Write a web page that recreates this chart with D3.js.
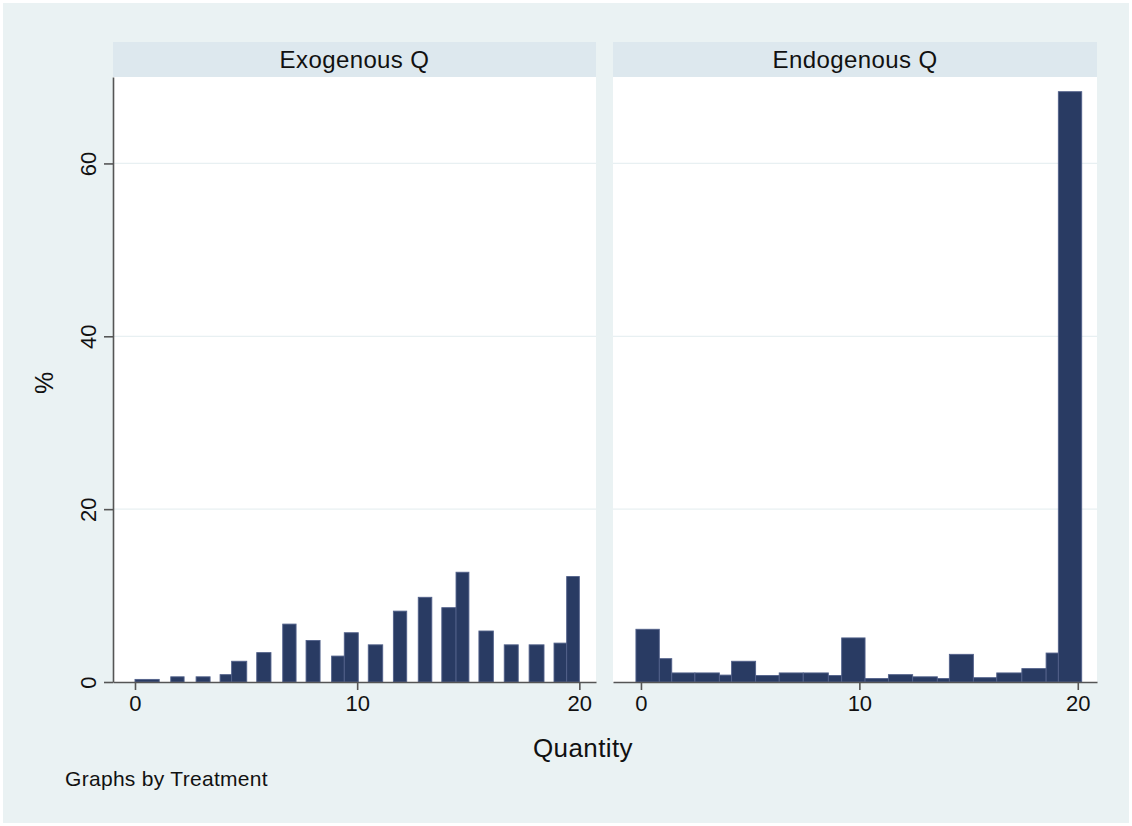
<!DOCTYPE html>
<html lang="en">
<head>
  <meta charset="UTF-8">
  <title>Quantity by Treatment</title>
  <script src="https://cdn.jsdelivr.net/npm/d3@7"></script>
  <style>
    body { margin: 0; background: #fff; }
    text { font-family: "Liberation Sans", Arial, Helvetica, sans-serif; fill: #111; }
  </style>
</head>
<body>
<div id="chart"></div>
<script>
  // bins: lower edge, upper edge (Quantity), percent
  const exoLo  = [0, 1.61, 2.75, 3.83, 4.35, 5.48, 6.65, 7.70, 8.85, 9.42, 10.50, 11.63, 12.75, 13.81, 14.45, 15.48, 16.62, 17.74, 18.86, 19.43];
  const exoHi  = [1.09, 2.21, 3.38, 4.35, 5.03, 6.12, 7.25, 8.33, 9.42, 10.05, 11.15, 12.23, 13.36, 14.45, 15.03, 16.13, 17.25, 18.41, 19.43, 20.0];
  const exoPct = [0.3, 0.6, 0.6, 0.85, 2.4, 3.4, 6.7, 4.8, 3.0, 5.7, 4.3, 8.2, 9.8, 8.6, 12.7, 5.9, 4.3, 4.3, 4.5, 12.2];

  const endoLo  = [-0.23, 0.84, 1.41, 2.47, 3.59, 4.15, 5.25, 6.33, 7.43, 8.58, 9.19, 10.26, 11.33, 12.44, 13.57, 14.12, 15.22, 16.29, 17.44, 18.55, 19.11];
  const endoHi  = [0.84, 1.41, 2.47, 3.59, 4.15, 5.25, 6.33, 7.43, 8.58, 9.19, 10.26, 11.33, 12.44, 13.57, 14.12, 15.22, 16.29, 17.44, 18.55, 19.11, 20.18];
  const endoPct = [6.1, 2.7, 1.05, 1.05, 0.8, 2.4, 0.75, 1.05, 1.05, 0.75, 5.1, 0.4, 0.85, 0.6, 0.4, 3.2, 0.5, 1.05, 1.55, 3.35, 68.3];

  const panelTitles = ['Exogenous Q', 'Endogenous Q'];
  const xTicks = [0, 10, 20];
  const yTicks = [0, 20, 40, 60];
  const yGrid = [20, 40, 60];
  const exoXDomain = [-0.99, 20.75];
  const endoXDomain = [-1.28, 20.88];
  const yDomain = [0, 70];

  const width = 1132, height = 826;
  const stripTop = 42, plotTop = 77, plotBottom = 682;

  const panels = [
    {title: panelTitles[0], lo: exoLo, hi: exoHi, pct: exoPct, domain: exoXDomain, left: 113, right: 596},
    {title: panelTitles[1], lo: endoLo, hi: endoHi, pct: endoPct, domain: endoXDomain, left: 613, right: 1097}
  ];

  const svg = d3.select('#chart').append('svg')
    .attr('width', width)
    .attr('height', height);

  svg.append('rect')
    .attr('x', 3).attr('y', 3)
    .attr('width', width - 6).attr('height', height - 6)
    .attr('fill', '#eaf2f3');

  const y = d3.scaleLinear().domain(yDomain).range([plotBottom, plotTop]);

  panels.forEach((p, k) => {
    const x = d3.scaleLinear().domain(p.domain).range([p.left, p.right]);
    const g = svg.append('g');

    // by-label strip
    g.append('rect')
      .attr('x', p.left).attr('y', stripTop)
      .attr('width', p.right - p.left).attr('height', plotTop - stripTop)
      .attr('fill', '#dde8ee');
    g.append('text')
      .attr('x', (p.left + p.right) / 2).attr('y', 68)
      .attr('text-anchor', 'middle')
      .style('font-size', '24px')
      .style('letter-spacing', '0.4px')
      .text(p.title);

    // plot region
    g.append('rect')
      .attr('x', p.left).attr('y', plotTop)
      .attr('width', p.right - p.left).attr('height', plotBottom - plotTop)
      .attr('fill', '#fff');

    g.selectAll('.grid')
      .data(yGrid)
      .join('line')
      .attr('x1', p.left).attr('x2', p.right)
      .attr('y1', d => y(d)).attr('y2', d => y(d))
      .attr('stroke', '#e8f0f2')
      .attr('stroke-width', 1.3);

    g.selectAll('.bar')
      .data(p.pct)
      .join('rect')
      .attr('x', (d, i) => x(p.lo[i]))
      .attr('width', (d, i) => x(p.hi[i]) - x(p.lo[i]))
      .attr('y', d => y(d))
      .attr('height', d => y(0) - y(d))
      .attr('fill', '#293b63')
      .attr('stroke', '#52618a')
      .attr('stroke-width', 0.9);

    const xAxis = g.append('g')
      .attr('transform', 'translate(0,' + plotBottom + ')')
      .call(d3.axisBottom(x).tickValues(xTicks).tickSize(8).tickSizeOuter(0).tickPadding(5));
    xAxis.select('.domain').attr('stroke', '#555').attr('stroke-width', 1.6);
    xAxis.selectAll('.tick line').attr('stroke', '#555').attr('stroke-width', 1.6);
    xAxis.selectAll('.tick text').style('font-size', '22px').attr('fill', '#111');

    if (k === 0) {
      const yAxis = g.append('g')
        .attr('transform', 'translate(' + p.left + ',0)')
        .call(d3.axisLeft(y).tickValues(yTicks).tickSize(9).tickSizeOuter(0));
      yAxis.select('.domain').attr('stroke', '#555').attr('stroke-width', 1.6);
      yAxis.selectAll('.tick line').attr('stroke', '#555').attr('stroke-width', 1.6);
      yAxis.selectAll('.tick text')
        .attr('transform', 'rotate(-90)')
        .attr('x', 0).attr('y', -17).attr('dy', 0)
        .attr('text-anchor', 'middle')
        .style('font-size', '22px')
        .attr('fill', '#111');
    }
  });

  svg.append('text')
    .attr('transform', 'translate(53,383) rotate(-90)')
    .attr('text-anchor', 'middle')
    .style('font-size', '25px')
    .text('%');

  svg.append('text')
    .attr('x', 583).attr('y', 757)
    .attr('text-anchor', 'middle')
    .style('font-size', '26px')
    .style('letter-spacing', '0.4px')
    .text('Quantity');

  svg.append('text')
    .attr('x', 65).attr('y', 786)
    .style('font-size', '21px')
    .style('letter-spacing', '0.3px')
    .text('Graphs by Treatment');
</script>
</body>
</html>
